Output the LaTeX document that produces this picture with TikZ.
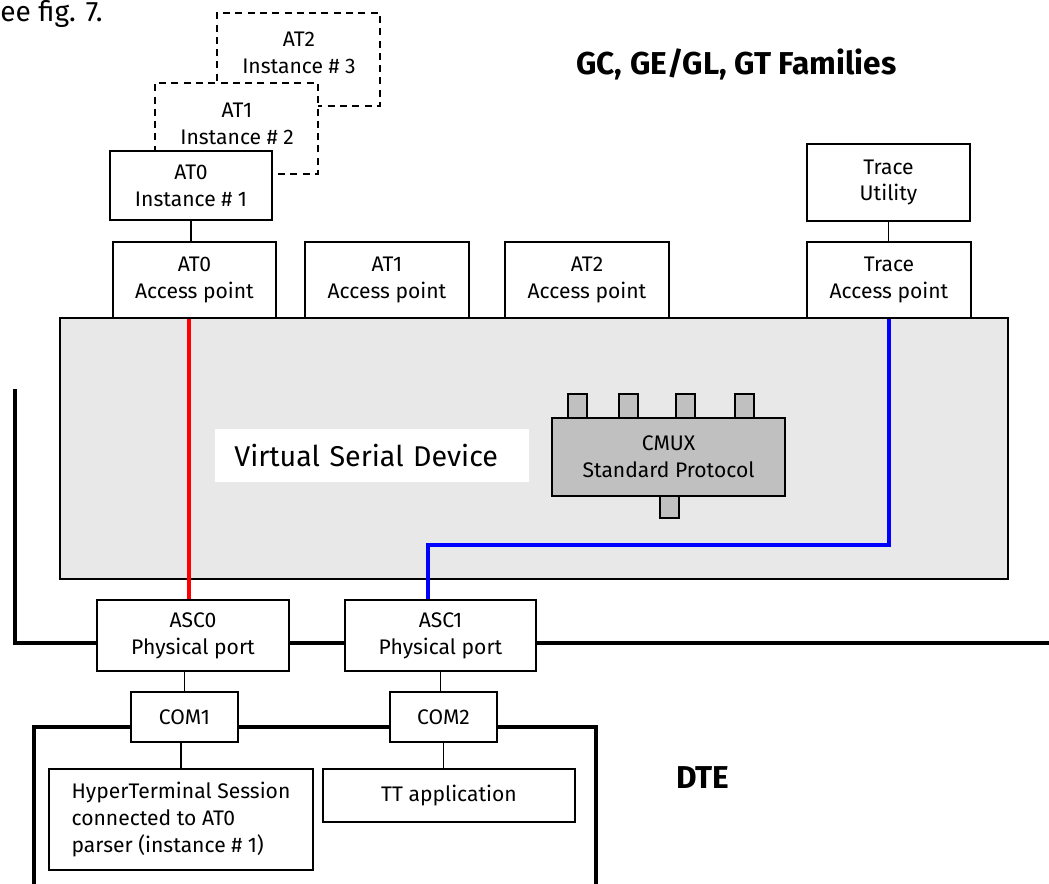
\documentclass[tikz,border=0pt]{standalone}
\usepackage{fontspec}
\setmainfont{Fira Sans}
\usepackage{xcolor}
\usepackage{tikz}

\definecolor{vsdgrey}{HTML}{E8E8E8}
\definecolor{cmuxgrey}{HTML}{C0C0C0}
\newcommand{\boxfont}{\fontsize{12}{15.3}\selectfont}

\begin{document}
\begin{tikzpicture}[x=0.02cm, y=-0.02cm]

    % Custom styles for boxes and wires
    \tikzstyle{unit} = [draw, line width=0.9pt, fill=white, inner sep=0pt, align=center, font=\boxfont]
    \tikzstyle{ghost} = [unit, dash pattern=on 4pt off 3pt]
    \tikzstyle{label} = [inner sep=0pt, align=center, font=\boxfont]
    \tikzstyle{port} = [draw, line width=0.9pt, fill=cmuxgrey, inner sep=0pt, minimum width=0.38cm, minimum height=0.48cm]
    \tikzstyle{bus} = [line width=2.7pt]
    \tikzstyle{link} = [line width=0.9pt]
    \tikzstyle{title} = [inner sep=0pt, font=\fontsize{18}{20}\selectfont\bfseries]

    \useasboundingbox (0,0) rectangle (1049,884);

    % Define nodes
    \node[inner sep=0pt, anchor=base west, font=\fontsize{16}{18}\selectfont] (figref) at (0,22) {ee fig. 7.};
    \node[title, anchor=west] (families) at (576,64) {GC, GE/GL, GT Families};
    \node[title] (dte) at (703,778) {DTE};

    \node[draw, line width=0.8pt, fill=vsdgrey, inner sep=0pt, minimum width=18.96cm, minimum height=5.22cm] (vsd) at (534,448.5) {};
    \node[fill=white, anchor=west, inner xsep=0.38cm, inner ysep=0pt, text width=5.52cm, minimum height=1.06cm, align=left, font=\fontsize{16.3}{20}\selectfont] (vsdlabel) at (215,455.5) {Virtual Serial Device};

    \node[unit, fill=cmuxgrey, minimum width=4.66cm, minimum height=1.56cm] (cmux) at (668.5,457) {CMUX\\Standard Protocol};
    \foreach \px [count=\i] in {577.5,628.5,685.5,744.5}
        \node[port] (mux\i) at (\px,406) {};
    \node[port, minimum height=0.44cm] (muxout) at (669.5,507) {};

    \node[ghost, minimum width=3.26cm, minimum height=1.86cm] (inst2) at (298.5,59.5) {};
    \node[label] (inst2txt) at (299,52.5) {AT2\\Instance \# 3};
    \node[ghost, minimum width=3.26cm, minimum height=1.82cm] (inst1) at (236.5,128.5) {};
    \node[label] (inst1txt) at (237,124) {AT1\\Instance \# 2};
    \node[unit, minimum width=3.24cm, minimum height=1.38cm] (inst0) at (191,185.5) {AT0\\Instance \# 1};
    \node[unit, minimum width=3.26cm, minimum height=1.54cm] (tutil) at (888.5,182.5) {Trace\\Utility};

    \node[unit, minimum width=3.26cm, minimum height=1.52cm] (ap0) at (194.5,280) {AT0\\Access point};
    \node[unit, minimum width=3.28cm, minimum height=1.52cm] (ap1) at (387,280) {AT1\\Access point};
    \node[unit, minimum width=3.28cm, minimum height=1.52cm] (ap2) at (587,280) {AT2\\Access point};
    \node[unit, minimum width=3.28cm, minimum height=1.52cm] (tap) at (889,280) {Trace\\Access point};

    \node[unit, minimum width=3.84cm, minimum height=1.42cm] (asc0) at (193,635.5) {ASC0\\Physical port};
    \node[unit, minimum width=3.82cm, minimum height=1.42cm] (asc1) at (440.5,635.5) {ASC1\\Physical port};
    \node[unit, minimum width=2.14cm, minimum height=1.0cm] (com1) at (184.5,717) {COM1};
    \node[unit, minimum width=2.14cm, minimum height=1.0cm] (com2) at (443.5,717) {COM2};
    \node[unit, align=left, minimum width=5.28cm, minimum height=2.02cm] (hyper) at (181,819.5) {HyperTerminal Session\\connected to AT0\\parser (instance \# 1)};
    \node[unit, minimum width=5.04cm, minimum height=1.06cm] (tt) at (449,795.5) {TT application};

    \coordinate (redx) at (189,0);
    \coordinate (bluex) at (428,0);
    \coordinate (bluey) at (0,545);
    \coordinate (ltop) at (15,389);
    \coordinate (busend) at (1049,643);
    \coordinate (dtey) at (0,727);
    \coordinate (dteleft) at (34,884);
    \coordinate (dteright) at (596,884);

    % Connect nodes
    \draw[link] (inst0.south) -- (inst0.south |- ap0.north);
    \draw[link] (tutil.south) -- (tutil.south |- tap.north);
    \draw[link] (com1.north) -- (com1.north |- asc0.south);
    \draw[link] (hyper.north) -- (hyper.north |- com1.south);
    \draw[link] (asc1.south) -- (asc1.south |- com2.north);
    \draw[link] (com2.south) -- (com2.south |- tt.north);

    \draw[red, line width=1.9pt] (ap0.south -| redx) -- (asc0.north -| redx);
    \draw[blue, line width=1.9pt] (tap.south) -- (tap.south |- bluey) -| (asc1.north -| bluex);

    % Serial bus and DTE frame
    \draw[bus] (ltop) |- (asc0.west |- busend);
    \draw[bus] (asc0.east |- busend) -- (asc1.west |- busend);
    \draw[bus] (asc1.east |- busend) -- (busend);
    \draw[bus] (dteleft) |- (com1.west |- dtey);
    \draw[bus] (com1.east |- dtey) -- (com2.west |- dtey);
    \draw[bus] (com2.east |- dtey) -| (dteright);

\end{tikzpicture}
\end{document}
